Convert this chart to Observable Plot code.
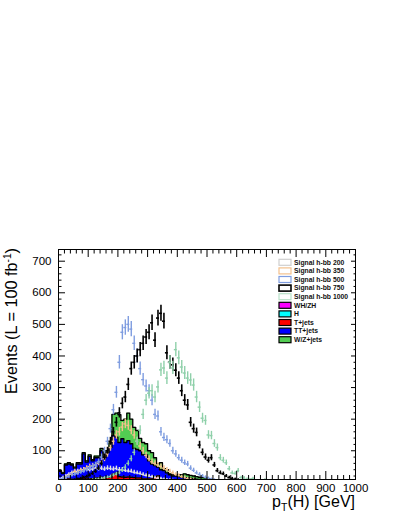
<!DOCTYPE html>
<html><head><meta charset="utf-8">
<script src="https://cdn.jsdelivr.net/npm/d3@7"></script>
<script src="https://cdn.jsdelivr.net/npm/@observablehq/plot@0.6"></script>
<style>
body{margin:0;background:#fff;}
#chart{position:relative;width:399px;height:516px;}
</style></head><body><div id="chart"></div>
<script>
// ---------- DATA ----------
const binWidth = 10;
const binLows = d3.range(0, 700, binWidth);

const xMajorTicks = [0,100,200,300,400,500,600,700,800,900,1000];
const yMajorTicks = [100,200,300,400,500,600,700];

const bkgNames = ["WH/ZH","H","T+jets","TT+jets","W/Z+jets"];
const bkgColors = ["#ff00ff","#00ffff","#ff0000","#0000ff","#52cc52"];

const sigNames = ["Signal h-bb 200","Signal h-bb 350","Signal h-bb 500","Signal h-bb 750","Signal h-bb 1000"];
const sigColors = ["#e2e2e2","#f3c08c","#7f9de0","#000000","#8fd0aa"];
const sigLegendStroke = ["#cfcfcf","#f3c08c","#7f9de0","#000000","#b8e0c8"];

const whzh = [1,1,1,1,1,1,1,1,1,1, 1,1,1,2,2,2,2,2,2,2, 2,2,2,2,2,2,2,2,1,1, 1,1,1,1,1,1,1,1,1,1, 1,1,1,1,1,1,1,1,1,1, 0,0,0,0,0,0,0,0,0,0, 0,0,0,0,0,0,0,0,0,0];
const higgs = [1,1,1,1,1,1,1,1,1,1, 1,1,1,2,2,2,2,2,3,3, 2,2,2,2,2,2,2,2,1,1, 1,1,1,1,1,1,1,1,1,1, 1,1,1,1,1,1,1,1,1,1, 0,0,0,0,0,0,0,0,0,0, 0,0,0,0,0,0,0,0,0,0];
const tjets = [5,4,8,9,8,6,9,9,12,9, 10,9,11,10,12,10,11,13,21,24, 14,13,12,13,12,11,10,10,9,9, 9,9,16,18,8,7,6,5,5,4, 4,3,3,2,2,2,1,1,1,1, 1,1,1,0,0,0,0,0,0,0, 0,0,0,0,0,0,0,0,0,0];
const ttjets = [28,22,45,47,45,37,47,47,76,53, 70,57,65,64,84,64,79,93,122,114, 108,121,110,115,106,92,90,86,76,76, 57,47,35,28,30,28,22,17,13,14, 12,10,10,10,9,8,7,6,5,4, 4,3,3,3,2,2,2,1,1,1, 0,0,0,0,0,0,0,0,0,0];
const wzjets = [2,2,3,4,3,3,4,4,4,4, 5,4,5,5,7,5,6,15,67,76, 88,58,74,87,78,67,60,39,39,35, 32,36,25,10,22,6,10,3,4,4, 6,9,12,10,9,8,8,7,7,7, 6,5,4,4,2,2,1,1,1,1, 0,0,0,0,0,0,0,0,0,0];

const sig200 = [10,15,20,25,30,32,35,38,40,42, 40,42,45,43,45,42,45,44,42,44, 40,40,38,36,35,32,30,28,25,22, 20,18,15,13,12,10,9,8,7,6, 5,4,4,3,3,2,2,2,1,1, 0,0,0,0,0,0,0,0,0,0, 0,0,0,0,0,0,0,0,0,0];
const sig350 = [5,10,15,20,25,35,30,38,40,45, 50,52,55,60,65,75,90,110,130,150, 160,175,185,180,165,150,130,115,100,85, 75,65,60,55,50,45,40,35,30,25, 22,18,15,12,10,8,6,5,4,3, 2,2,1,1,0,0,0,0,0,0, 0,0,0,0,0,0,0,0,0,0];
const sig500 = [8,12,15,18,22,25,28,32,35,40, 45,50,55,65,80,100,130,170,230,285, 380,475,490,500,485,440,400,360,325,305, 290,260,215,210,160,142,135,123,100,90, 78,70,62,58,45,38,30,25,20,16, 13,10,8,6,5,4,3,2,2,1, 1,0,0,0,0,0,0,0,0,0];
const sig750 = [2,3,4,5,6,8,10,12,15,18, 22,28,35,45,60,80,100,130,160,190, 220,250,270,310,360,380,400,420,440,460, 475,505,450,520,535,510,410,380,372,355, 330,290,260,245,190,170,158,118,95,80, 70,78,55,37,30,27,20,15,12,10, 8,6,5,4,3,2,2,1,1,1];
const sig1000 = [1,1,2,2,3,3,4,5,5,6, 7,8,9,10,12,14,16,18,22,26, 30,38,48,60,75,95,130,165,215,260, 282,290,270,302,356,362,330,380,362,420, 394,365,346,330,324,308,270,238,203,196, 150,148,123,110,78,70,62,43,30,28, 37,15,14,10,9,12,6,5,4,8];

const bkgValues = [whzh, higgs, tjets, ttjets, wzjets];
const sigValues = [sig200, sig350, sig500, sig750, sig1000];
const errScale = 1.1; // Poisson-like error bars: errScale * sqrt(content)

// ---------- build tables ----------
const stackPts = [];
const base = binLows.map(() => 0);
bkgNames.forEach((name, j) => {
  const vals = bkgValues[j];
  const pts = binLows.map((lo, i) => {
    const y1 = base[i], y2 = base[i] + vals[i];
    base[i] = y2;
    return {series: name, x: lo, y1, y2};
  });
  const last = pts[pts.length - 1];
  pts.push({series: name, x: last.x + binWidth, y1: last.y1, y2: last.y2});
  stackPts.push(...pts);
});

const sigRows = sigNames.map((name, j) =>
  binLows.map((lo, i) => {
    const v = sigValues[j][i];
    const e = errScale * Math.sqrt(v);
    return {series: name, x: lo + binWidth / 2, x1: lo, x2: lo + binWidth, v, lo: v - e, hi: v + e};
  }).filter(d => d.v > 0)
);

const xMinor = d3.range(0, 1001, 20).filter(d => d % 100 !== 0);
const yMinor = d3.range(20, 740, 20).filter(d => d % 100 !== 0);

const W = 399, H = 516;
const fontFamily = "'Liberation Sans', Arial, Helvetica, sans-serif";

const plot = Plot.plot({
  width: W, height: H,
  marginLeft: 58, marginRight: 44, marginTop: 249, marginBottom: 37,
  style: {fontFamily, background: "white", overflow: "visible"},
  x: {domain: [0, 1000]},
  y: {domain: [9, 737]},
  color: {domain: bkgNames.concat(sigNames), range: bkgColors.concat(sigColors)},
  marks: [
    Plot.areaY(stackPts, {x: "x", y1: "y1", y2: "y2", z: "series", fill: "series", curve: "step-after", clip: true}),
    Plot.lineY(stackPts, {x: "x", y: "y2", z: "series", stroke: "black", strokeWidth: 1.35, curve: "step-after", clip: true}),
    ...sigRows.flatMap((rows, j) => [
      Plot.ruleX(rows, {x: "x", y1: "lo", y2: "hi", stroke: "series", strokeWidth: j === 3 ? 1.6 : 1.4, clip: true}),
      Plot.ruleY(rows, {y: "v", x1: "x1", x2: "x2", stroke: "series", strokeWidth: j === 3 ? 1.6 : 1.4, clip: true})
    ]),
    Plot.frame({stroke: "black", strokeWidth: 1}),
    // ticks inside the frame (ROOT style)
    Plot.axisX({anchor: "bottom", ticks: xMajorTicks, tickSize: 8, dy: -8, fill: "none", label: null}),
    Plot.axisX({anchor: "bottom", ticks: xMinor, tickSize: 4, dy: -4, fill: "none", label: null}),
    Plot.axisX({anchor: "top", ticks: xMajorTicks, tickSize: 7, dy: 7, fill: "none", label: null}),
    Plot.axisX({anchor: "top", ticks: xMinor, tickSize: 3.5, dy: 3.5, fill: "none", label: null}),
    Plot.axisY({anchor: "left", ticks: yMajorTicks, tickSize: 7, dx: 7, fill: "none", label: null}),
    Plot.axisY({anchor: "left", ticks: yMinor, tickSize: 3.5, dx: 3.5, fill: "none", label: null}),
    Plot.axisY({anchor: "right", ticks: yMajorTicks, tickSize: 5, dx: -5, fill: "none", label: null}),
    Plot.axisY({anchor: "right", ticks: yMinor, tickSize: 2.5, dx: -2.5, fill: "none", label: null}),
    // tick labels
    Plot.axisX({anchor: "bottom", ticks: xMajorTicks, tickSize: 0, tickPadding: 4, fontSize: 11.5, fill: "black", label: null, tickFormat: d => String(d)}),
    Plot.axisY({anchor: "left", ticks: yMajorTicks, tickSize: 0, tickPadding: 7, fontSize: 11.5, fill: "black", label: null, tickFormat: d => String(d)})
  ]
});

document.getElementById("chart").appendChild(plot);
const svg = d3.select(plot);

// axis titles
const yt = svg.append("text")
  .attr("transform", "translate(16.5,394) rotate(-90)")
  .attr("text-anchor", "start")
  .style("text-anchor", "start")
  .style("font-family", fontFamily)
  .attr("textLength", 146)
  .attr("lengthAdjust", "spacingAndGlyphs")
  .attr("font-size", 16).attr("fill", "black");
yt.append("tspan").text("Events (L = 100 fb");
yt.append("tspan").attr("font-size", 10).attr("dy", -6).text("-1");
yt.append("tspan").attr("dy", 6).text(")");

const xt = svg.append("text")
  .attr("x", 355).attr("y", 507)
  .attr("text-anchor", "end")
  .style("text-anchor", "end")
  .style("font-family", fontFamily)
  .attr("font-size", 16).attr("fill", "black");
xt.append("tspan").text("p");
xt.append("tspan").attr("font-size", 10.5).attr("dy", 4).text("T");
xt.append("tspan").attr("dy", -4).text("(H) [GeV]");

// legend
const legendNames = sigNames.concat(bkgNames);
const lg = svg.append("g").attr("text-anchor", "start");
legendNames.forEach((name, i) => {
  const cy = 262.3 + i * 8.6;
  const isSig = i < sigNames.length;
  lg.append("rect")
    .attr("x", 279).attr("y", cy - 3).attr("width", 12).attr("height", 6)
    .attr("fill", isSig ? "white" : bkgColors[i - sigNames.length])
    .attr("stroke", isSig ? sigLegendStroke[i] : "black")
    .attr("stroke-width", isSig && i === 3 ? 1.6 : 1.2);
  lg.append("text")
    .attr("x", 294).attr("y", cy).attr("dy", "0.35em")
    .attr("text-anchor", "start")
    .style("font-family", fontFamily)
    .attr("font-size", 6.8).attr("font-weight", "bold")
    .attr("fill", "#111").text(name);
});
</script></body></html>
